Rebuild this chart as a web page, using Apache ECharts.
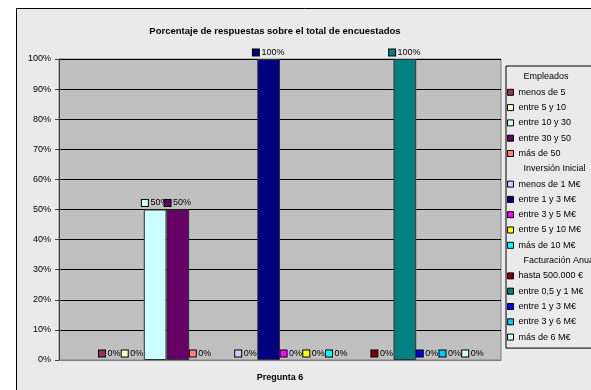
<!DOCTYPE html>
<html><head><meta charset="utf-8">
<script src="https://cdn.jsdelivr.net/npm/echarts@6/dist/echarts.min.js"></script>
<style>html,body{margin:0;padding:0;background:#fff;}#c{width:591px;height:390px;}</style>
</head><body><div id="c"></div>
<script>
const title = 'Porcentaje de respuestas sobre el total de encuestados';
const categories = ['Pregunta 6'];
const seriesNames = ['Empleados','menos de 5','entre 5 y 10','entre 10 y 30','entre 30 y 50','más de 50',
  'Inversión Inicial','menos de 1 M€','entre 1 y 3 M€','entre 3 y 5 M€','entre 5 y 10 M€','más de 10 M€',
  'Facturación Anual','hasta 500.000 €','entre 0,5 y 1 M€','entre 1 y 3 M€ ','entre 3 y 6 M€','más de 6 M€'];
const headers = ['Empleados','Inversión Inicial','Facturación Anual'];
const values = [null,0,0,50,50,0, null,0,100,0,0,0, null,0,100,0,0,0];
const colors = ['#9999FF','#993366','#FFFFCC','#CCFFFF','#660066','#FF8080',
  '#0066CC','#CCCCFF','#000080','#FF00FF','#FFFF00','#00FFFF',
  '#800080','#800000','#008080','#0000FF','#00CCFF','#CCFFFF'];
const yTicks = [0,10,20,30,40,50,60,70,80,90,100];

const FONT = '"Liberation Sans", Arial, sans-serif';
const chart = echarts.init(document.getElementById('c'));
const series = seriesNames.map((n, i) => {
  const isH = headers.includes(n);
  const v = values[i];
  return {
    name: n, type: 'bar', barWidth: 22.7, barGap: '0%',
    data: [v === null ? '-' : { value: v, itemStyle: { borderWidth: v === 0 ? 0 : 1 } }],
    itemStyle: { color: isH ? 'rgba(0,0,0,0)' : colors[i], borderColor: '#333', borderWidth: isH ? 0 : 1 },
    label: {
      show: !isH, position: 'top', distance: 2,
      formatter: p => '{b|}{t| ' + p.value + '%}',
      rich: {
        b: { width: 6, height: 6, backgroundColor: colors[i], borderColor: '#000', borderWidth: 1 },
        t: { fontFamily: FONT, fontSize: 9, color: '#000' }
      }
    },
    emphasis: { disabled: true }
  };
});
chart.setOption({
  animation: false,
  backgroundColor: '#fff',
  graphic: [{ type: 'rect', shape: { x: 16.5, y: 8.5, width: 600, height: 400 },
    style: { fill: '#EAEAEA', stroke: '#000', lineWidth: 1 }, z: -10 }],
  title: { text: title, left: 270, top: 21, textAlign: 'center',
    textStyle: { fontFamily: FONT, fontSize: 9.5, fontWeight: 'bold', color: '#000' } },
  grid: { left: 59, top: 59, right: 90, bottom: 30, show: true, backgroundColor: '#C0C0C0',
    borderColor: '#808080', borderWidth: 1 },
  legend: {
    orient: 'vertical', left: 506, top: 66, padding: [5, 30, 5, 1],
    borderColor: '#000', borderWidth: 1, backgroundColor: '#EAEAEA',
    itemWidth: 6, itemHeight: 6, itemGap: 3.3, icon: 'rect',
    itemStyle: { borderColor: '#000', borderWidth: 1 },
    selectedMode: false,
    textStyle: { fontFamily: FONT, fontSize: 9, color: '#000', lineHeight: 12 },
    formatter: n => headers.includes(n) ? '  ' + n : n,
    data: seriesNames.map(n => headers.includes(n)
      ? { name: n, itemStyle: { color: 'rgba(0,0,0,0)', borderColor: 'rgba(0,0,0,0)', borderWidth: 0 } }
      : { name: n })
  },
  xAxis: { type: 'category', data: categories,
    axisLine: { show: true, lineStyle: { color: '#808080' } }, axisTick: { show: false },
    axisLabel: { fontFamily: FONT, fontSize: 9, fontWeight: 'bold', color: '#000', margin: 13 } },
  yAxis: { type: 'value', min: 0, max: 100, interval: 10,
    axisLine: { show: true, lineStyle: { color: '#404040' } },
    axisTick: { show: true, length: 4, lineStyle: { color: '#404040' } },
    splitLine: { lineStyle: { color: '#000', width: 1 } },
    axisLabel: { fontFamily: FONT, fontSize: 9, color: '#000', margin: 8,
      formatter: v => yTicks.includes(v) ? v + '%' : '' } },
  series: series
});
</script></body></html>
